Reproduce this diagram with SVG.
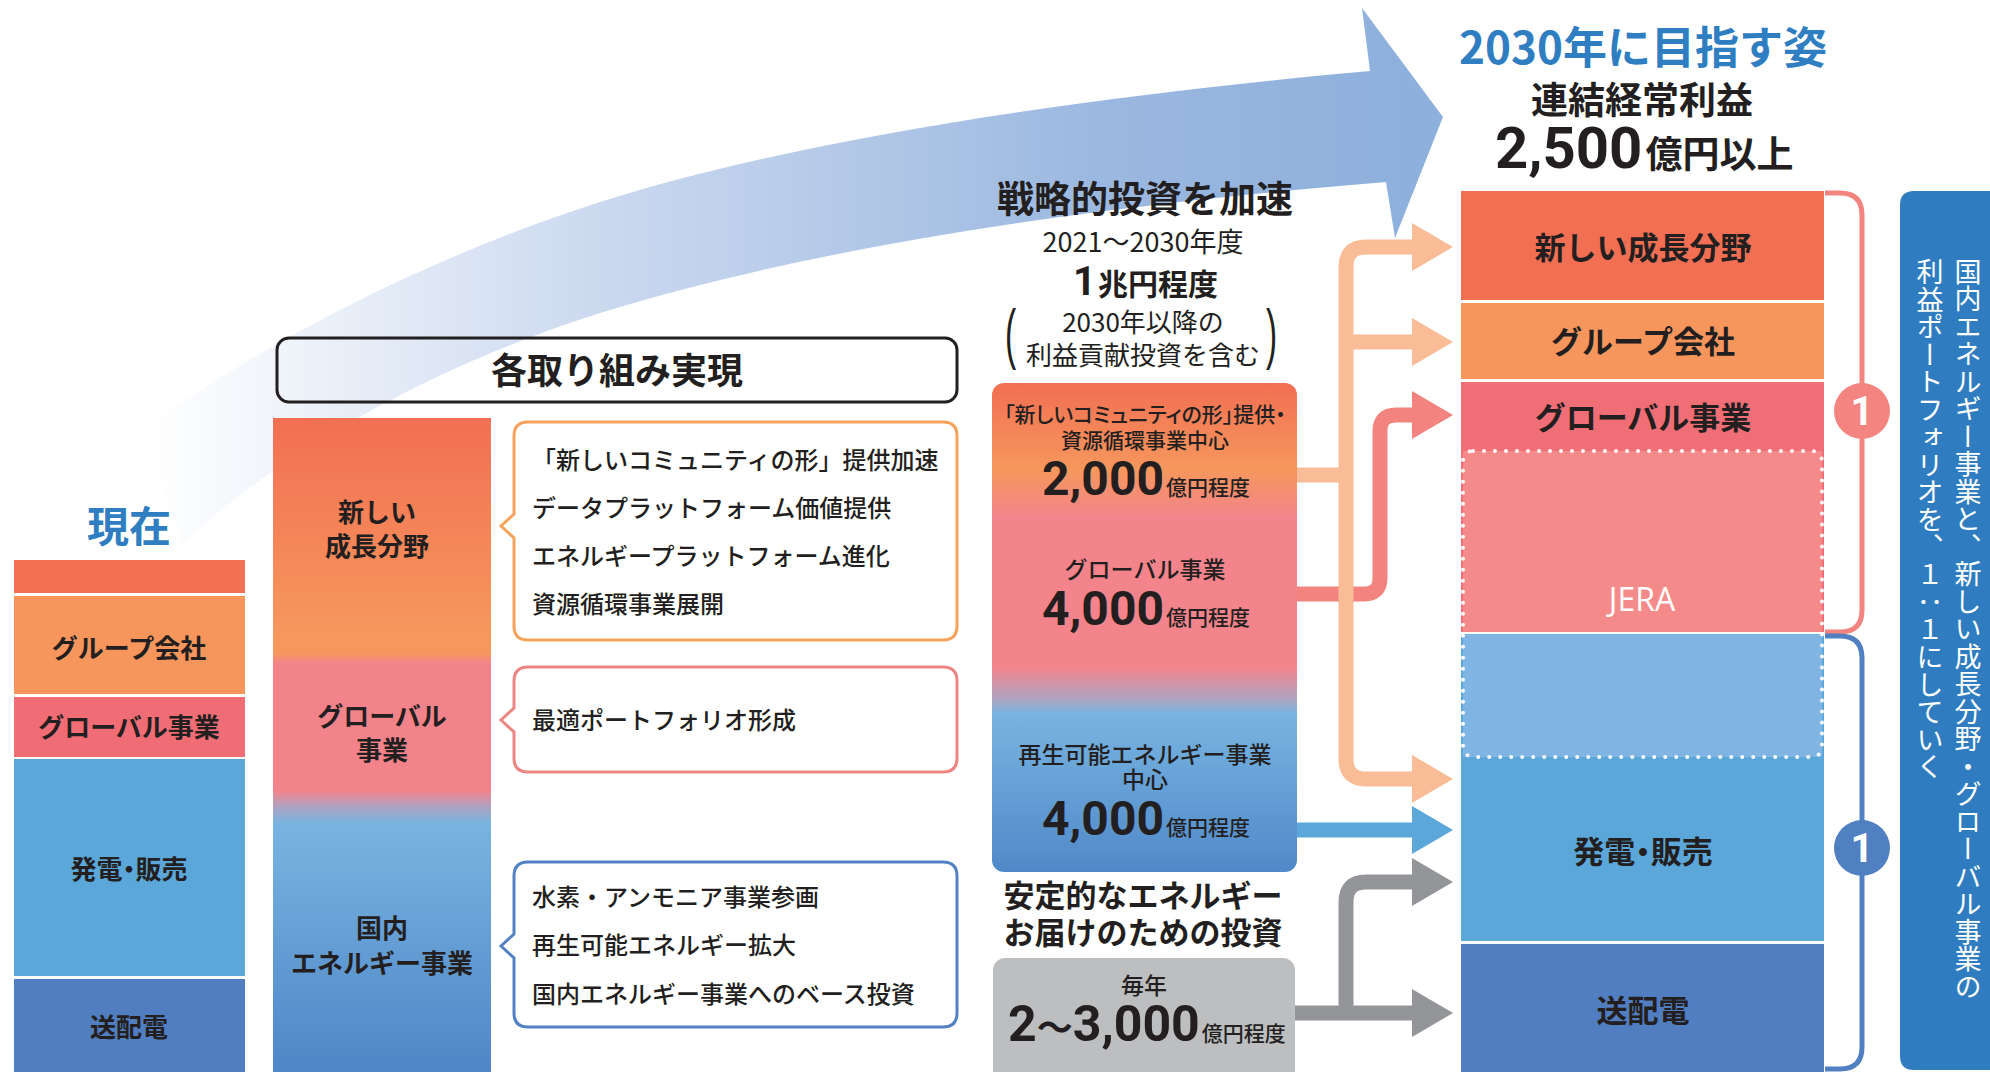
<svg xmlns="http://www.w3.org/2000/svg" width="1990" height="1072" viewBox="0 0 1990 1072">
<defs>
<style>
.t{font-family:"Noto Sans CJK JP","Noto Sans",sans-serif;fill:#231F20}
.b{font-weight:700}
.m{font-weight:500}
.r{font-weight:400}
.c{text-anchor:middle}
.s{text-anchor:start}
.num{font-family:Roboto,"Noto Sans CJK JP",sans-serif;font-weight:700}
.p{font-feature-settings:"palt"}
.co{stroke-width:15;fill:none;stroke-linejoin:round}
.bub{fill:#FFFFFF;stroke-width:3}
</style>
<linearGradient id="arrowG" gradientUnits="userSpaceOnUse" x1="150" y1="0" x2="1400" y2="0">
<stop offset="0" stop-color="#FFFFFF"/>
<stop offset="0.36" stop-color="#CBD9EF"/>
<stop offset="0.76" stop-color="#9BB8E0"/>
<stop offset="1" stop-color="#8EB0DC"/>
</linearGradient>
<linearGradient id="barG" gradientUnits="userSpaceOnUse" x1="0" y1="418" x2="0" y2="1072">
<stop offset="0" stop-color="#F26F53"/>
<stop offset="0.33" stop-color="#F6975D"/>
<stop offset="0.36" stop-color="#F6975D"/>
<stop offset="0.375" stop-color="#F3838B"/>
<stop offset="0.57" stop-color="#F3838B"/>
<stop offset="0.595" stop-color="#ADA4C2"/>
<stop offset="0.62" stop-color="#78B4E1"/>
<stop offset="1" stop-color="#4F86C7"/>
</linearGradient>
<linearGradient id="midG" gradientUnits="userSpaceOnUse" x1="0" y1="383" x2="0" y2="872">
<stop offset="0" stop-color="#F26F53"/>
<stop offset="0.178" stop-color="#F6975D"/>
<stop offset="0.274" stop-color="#F3848B"/>
<stop offset="0.58" stop-color="#F3848B"/>
<stop offset="0.648" stop-color="#ADA4C2"/>
<stop offset="0.675" stop-color="#78B4E1"/>
<stop offset="1" stop-color="#5089C9"/>
</linearGradient>
<marker id="mPeach" markerUnits="userSpaceOnUse" markerWidth="42" markerHeight="48" refX="0" refY="24" orient="auto"><path d="M0,0 L41,24 L0,48 Z" fill="#F9BC96"/></marker>
<marker id="mPink" markerUnits="userSpaceOnUse" markerWidth="42" markerHeight="48" refX="0" refY="24" orient="auto"><path d="M0,0 L41,24 L0,48 Z" fill="#F2837E"/></marker>
<marker id="mBlue" markerUnits="userSpaceOnUse" markerWidth="42" markerHeight="48" refX="0" refY="24" orient="auto"><path d="M0,0 L41,24 L0,48 Z" fill="#5BA7DA"/></marker>
<marker id="mGray" markerUnits="userSpaceOnUse" markerWidth="42" markerHeight="48" refX="0" refY="24" orient="auto"><path d="M0,0 L41,24 L0,48 Z" fill="#939598"/></marker>
</defs>
<rect width="1990" height="1072" fill="#FFFFFF"/>

<g id="big-arrow">
<path d="M143,430 C260,345 420,260 600,202 C800,138 1100,95 1370,71 L1362,8 L1443,117 L1395,238 L1386,182 C1100,205 820,245 600,313 C420,370 270,460 182,545 Z" fill="url(#arrowG)"/>
</g>

<g id="current">
<text class="t b c" x="129" y="542" font-size="42" style="fill:#2F7EC1">現在</text>
<rect x="14" y="560" width="231" height="33" fill="#F26F53"/>
<rect x="14" y="596" width="231" height="98" fill="#F6955C"/>
<rect x="14" y="697" width="231" height="60" fill="#F06D75"/>
<rect x="14" y="759" width="231" height="217" fill="#5BA7DA"/>
<rect x="14" y="979" width="231" height="93" fill="#517EC1"/>
<text class="t b c" x="129" y="658" font-size="26">グループ会社</text>
<text class="t b c" x="129" y="737" font-size="26">グローバル事業</text>
<text class="t b c p" x="129" y="879" font-size="26">発電・販売</text>
<text class="t b c" x="129" y="1037" font-size="26">送配電</text>
</g>

<g id="initiatives-title">
<rect x="277" y="338" width="680" height="64" rx="12" fill="none" stroke="#231F20" stroke-width="3"/>
<text class="t b c" x="617" y="384" font-size="36">各取り組み実現</text>
</g>

<g id="business-bar">
<rect x="273" y="418" width="218" height="654" fill="url(#barG)"/>
<text class="t b c" font-size="26"><tspan x="377" y="522">新しい</tspan><tspan x="377" y="556">成長分野</tspan></text>
<text class="t b c" font-size="26"><tspan x="382" y="726">グローバル</tspan><tspan x="382" y="760">事業</tspan></text>
<text class="t b c" font-size="26"><tspan x="382" y="938">国内</tspan><tspan x="382" y="973">エネルギー事業</tspan></text>
</g>

<g id="callout-growth">
<path class="bub" stroke="#F7A25A" d="M528,422 H943 Q957,422 957,436 V626 Q957,640 943,640 H528 Q514,640 514,626 V538 L501,526 L514,514 V436 Q514,422 528,422 Z"/>
<text class="t m" font-size="24"><tspan x="532" y="469">「新しいコミュニティの形」提供加速</tspan><tspan x="532" y="517">データプラットフォーム価値提供</tspan><tspan x="532" y="565">エネルギープラットフォーム進化</tspan><tspan x="532" y="613">資源循環事業展開</tspan></text>
</g>

<g id="callout-global">
<path class="bub" stroke="#EF8583" d="M528,667 H943 Q957,667 957,681 V758 Q957,772 943,772 H528 Q514,772 514,758 V732 L501,720 L514,708 V681 Q514,667 528,667 Z"/>
<text class="t m" x="532" y="729" font-size="24">最適ポートフォリオ形成</text>
</g>

<g id="callout-domestic">
<path class="bub" stroke="#5281C4" d="M528,862 H943 Q957,862 957,876 V1013 Q957,1027 943,1027 H528 Q514,1027 514,1013 V958 L501,946 L514,934 V876 Q514,862 528,862 Z"/>
<text class="t m" font-size="24"><tspan x="532" y="906">水素・アンモニア事業参画</tspan><tspan x="532" y="954">再生可能エネルギー拡大</tspan><tspan x="532" y="1003">国内エネルギー事業へのベース投資</tspan></text>
</g>

<g id="strategic-investment">
<text class="t b c" x="1145" y="213" font-size="37">戦略的投資を加速</text>
<text class="t r c" x="1143" y="252" font-size="27">2021～2030年度</text>
<text class="t b" y="295"><tspan class="num" x="1073" font-size="40">1</tspan><tspan dx="2" font-size="30">兆円程度</tspan></text>
<text class="r" x="2010" y="356" font-size="67" transform="scale(0.5,1)" style="font-family:'Liberation Sans',sans-serif;fill:#231F20">(</text>
<text class="r" x="2532" y="356" font-size="67" transform="scale(0.5,1)" style="font-family:'Liberation Sans',sans-serif;fill:#231F20">)</text>
<text class="t r c" font-size="26"><tspan x="1143" y="332">2030年以降の</tspan><tspan x="1143" y="365">利益貢献投資を含む</tspan></text>
</g>

<g id="investment-box">
<rect x="992" y="383" width="305" height="489" rx="12" fill="url(#midG)"/>
<text class="t m c" font-size="21"><tspan class="p" x="1145" y="422">「新しいコミュニティの形」提供・</tspan><tspan x="1145" y="448">資源循環事業中心</tspan><tspan class="num s" x="1042" y="495" font-size="48">2,000</tspan><tspan dx="2">億円程度</tspan></text>
<text class="t m c" font-size="23"><tspan x="1145" y="578">グローバル事業</tspan><tspan class="num s" x="1042" y="625" font-size="48">4,000</tspan><tspan dx="2" font-size="21">億円程度</tspan></text>
<text class="t m c" font-size="23"><tspan x="1145" y="763">再生可能エネルギー事業</tspan><tspan x="1145" y="788">中心</tspan><tspan class="num s" x="1042" y="835" font-size="48">4,000</tspan><tspan dx="2" font-size="21">億円程度</tspan></text>
</g>

<g id="stable-investment">
<text class="t b c" font-size="31"><tspan x="1143" y="907">安定的なエネルギー</tspan><tspan x="1143" y="944">お届けのための投資</tspan></text>
<rect x="993" y="958" width="302" height="130" rx="12" fill="#BCBEC0"/>
<text class="t m c" font-size="23"><tspan x="1144" y="994">毎年</tspan><tspan class="num s" x="1008" y="1041" font-size="50">2</tspan><tspan class="b" font-size="36">～</tspan><tspan class="num" font-size="50">3,000</tspan><tspan dx="2" font-size="21">億円程度</tspan></text>
</g>

<g id="connectors">
<path class="co" stroke="#F2837E" d="M1297,594 H1364 Q1380,594 1380,578 V431 Q1380,415 1396,415 H1412" marker-end="url(#mPink)"/>
<path class="co" stroke="#F9BC96" d="M1297,475 H1346"/>
<path class="co" stroke="#F9BC96" d="M1346,475 V267 Q1346,247 1366,247 H1412" marker-end="url(#mPeach)"/>
<path class="co" stroke="#F9BC96" d="M1346,342 H1412" marker-end="url(#mPeach)"/>
<path class="co" stroke="#F9BC96" d="M1346,475 V759 Q1346,779 1366,779 H1412" marker-end="url(#mPeach)"/>
<path class="co" stroke="#5BA7DA" d="M1297,830 H1412" marker-end="url(#mBlue)"/>
<path class="co" stroke="#939598" d="M1295,1013 H1412" marker-end="url(#mGray)"/>
<path class="co" stroke="#939598" d="M1346,1013 V902 Q1346,882 1366,882 H1412" marker-end="url(#mGray)"/>
</g>

<g id="target-2030">
<text class="t b c" x="1643" y="64" font-size="44" style="fill:#2F7EC1">2030年に目指す姿</text>
<text class="t b c" font-size="37"><tspan x="1642" y="114">連結経常利益</tspan><tspan class="num s" x="1495" y="168" font-size="58">2,500</tspan><tspan dx="3">億円以上</tspan></text>
</g>

<g id="target-stack">
<rect x="1461" y="191" width="363" height="109" fill="#F26F53"/>
<rect x="1461" y="303" width="363" height="76" fill="#F6955C"/>
<rect x="1461" y="382" width="363" height="250" fill="#F06E76"/>
<rect x="1463" y="451" width="359" height="181" fill="#F48B8A"/>
<rect x="1461" y="634" width="363" height="307" fill="#5BA7DA"/>
<rect x="1463" y="634" width="359" height="123" fill="#80B4E2"/>
<rect x="1461" y="944" width="363" height="128" fill="#517EC1"/>
<rect x="1463" y="451" width="359" height="306" rx="10" fill="none" stroke="#FFFFFF" stroke-width="4" stroke-dasharray="0 11" stroke-linecap="round"/>
<text class="t b c" x="1643" y="259" font-size="31">新しい成長分野</text>
<text class="t b c" x="1643" y="353" font-size="31">グループ会社</text>
<text class="t b c" x="1643" y="429" font-size="31">グローバル事業</text>
<text class="c" x="1642" y="611" font-size="32" style="font-family:'Open Sans','Liberation Sans',sans-serif;fill:#FFFFFF">JERA</text>
<text class="t b c p" x="1643" y="863" font-size="31">発電・販売</text>
<text class="t b c" x="1643" y="1022" font-size="31">送配電</text>
</g>

<g id="ratio-brackets">
<path d="M1825,193 H1840 Q1862,193 1862,215 V610 Q1862,632 1840,632 H1825" fill="none" stroke="#F4847F" stroke-width="5"/>
<circle cx="1862" cy="411" r="28" fill="#F4847F"/>
<text class="num c" x="1862" y="425" font-size="40" style="fill:#FFFFFF">1</text>
<path d="M1825,636 H1840 Q1862,636 1862,658 V1047 Q1862,1069 1840,1069 H1825" fill="none" stroke="#5080C2" stroke-width="5"/>
<circle cx="1862" cy="848" r="28" fill="#5080C2"/>
<text class="num c" x="1862" y="862" font-size="40" style="fill:#FFFFFF">1</text>
</g>

<g id="goal-panel">
<path d="M1914,191 H1995 V1070 H1914 Q1900,1070 1900,1056 V205 Q1900,191 1914,191 Z" fill="#2F7DC0"/>
<text class="t r" font-size="27" letter-spacing="0.5" style="writing-mode:vertical-rl;fill:#FFFFFF"><tspan x="1968" y="258">国内エネルギー事業と、新しい成長分野・グローバル事業の</tspan><tspan x="1930" y="258">利益ポートフォリオを、１：１にしていく</tspan></text>
</g>
</svg>
